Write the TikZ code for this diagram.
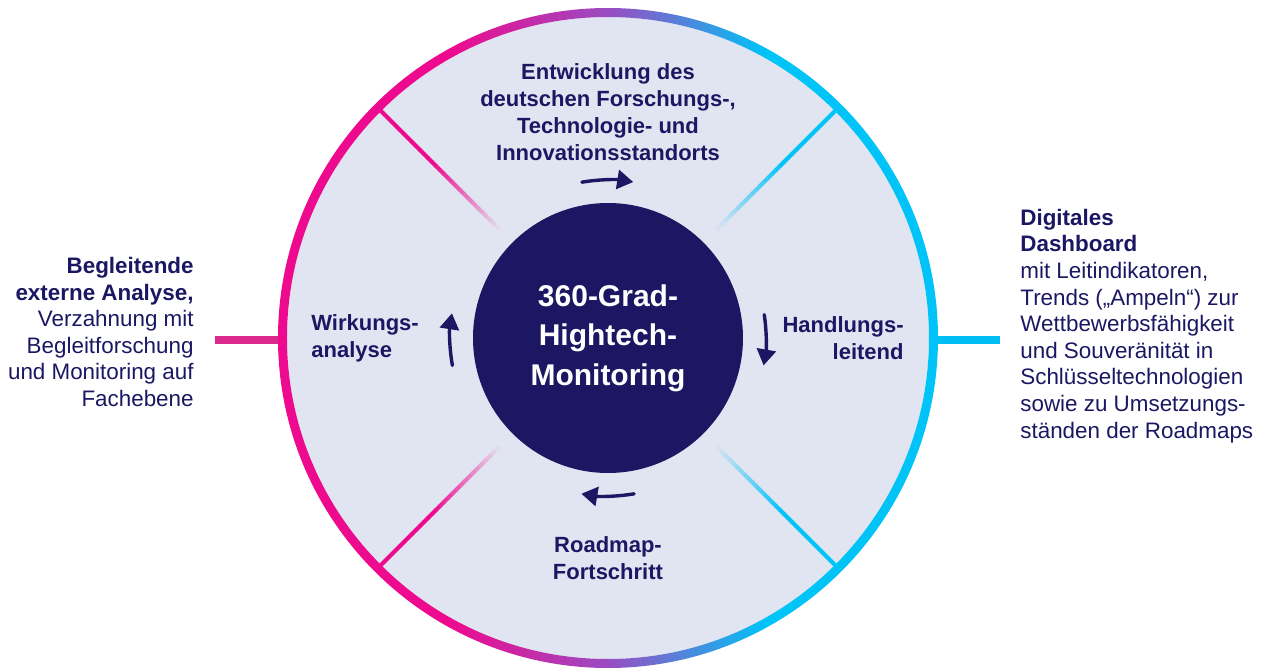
\documentclass[tikz,border=0pt]{standalone}
\usepackage{fontspec}
\setmainfont{Liberation Sans}
\usetikzlibrary{arrows.meta}
\definecolor{navy}{HTML}{1B1762}
\definecolor{diskfill}{HTML}{E1E4F1}
\definecolor{ringpink}{HTML}{EE0A8E}
\definecolor{ringpurple}{HTML}{9A4CC2}
\definecolor{ringcyan}{HTML}{00C3F7}
\definecolor{linkpink}{HTML}{DC2A8C}
\definecolor{linkcyan}{HTML}{00BEF3}
\pgfdeclarehorizontalshading{ringshade}{100bp}{color(0bp)=(ringpink); color(38bp)=(ringpink); color(50bp)=(ringpurple); color(62bp)=(ringcyan); color(100bp)=(ringcyan)}
\begin{document}
\begin{tikzpicture}[x=0.5pt, y=0.5pt, line cap=round, >={Triangle[length=8pt,width=9.5pt]},
	lbl/.style={text=navy, inner sep=0pt, align=center, font=\bfseries\fontsize{11pt}{13.5pt}\selectfont},
	side/.style={text=navy, inner sep=0pt, font=\fontsize{11.2pt}{13.3pt}\selectfont},
	hub/.style={circle, fill=navy, text=white, minimum size=135pt, inner sep=0pt, align=center, font=\bfseries\fontsize{15pt}{19.8pt}\selectfont},
	flow/.style={draw=navy, line width=1.7pt, ->},
	divider/.style={line width=2pt, line cap=butt},
	link/.style={line width=4pt, line cap=butt}]
		\useasboundingbox (-608,-333) rectangle (658,338);
		\fill[diskfill] (0,0) circle (321);
		% fading dividers
		\foreach \ang/\col in {135/ringpink, 225/ringpink, 45/ringcyan, -45/ringcyan}{
			\foreach \k in {0,...,29}{
				\pgfmathsetmacro{\ra}{322-\k*5.6}
				\pgfmathsetmacro{\rb}{322-(\k+1)*5.6-0.6}
				\pgfmathtruncatemacro{\mix}{min(100,100*(30-\k)/17)}
				\draw[divider, \col!\mix!diskfill] (\ang:\ra) -- (\ang:\rb);
			}
		}
		\coordinate (ringW) at (-326,-2);
		\coordinate (linkW) at (-393,-2);
		\coordinate (ringE) at (326,-2);
		\coordinate (linkE) at (392,-2);
		\draw[link, linkpink] (linkW) -- (ringW);
		\draw[link, linkcyan] (ringE) -- (linkE);
		\shade[shading=ringshade, even odd rule] (0,0) circle (330) circle (321);
		\node[hub] (hub) at (0,0) {360-Grad-\\Hightech-\\Monitoring};
		\node[lbl] (standort) at (0,226) {Entwicklung des\\deutschen Forschungs-,\\Technologie- und\\Innovationsstandorts};
		\node[lbl, anchor=east, align=right] (handeln) at (296,0) {Handlungs-\\leitend};
		\node[lbl] (roadmap) at (0,-220) {Roadmap-\\Fortschritt};
		\node[lbl, anchor=west, align=left] (wirkung) at (-297,0) {Wirkungs-\\analyse};
		\draw[flow] (99.5:158) arc[start angle=99.5, end angle=80.8, radius=158];
		\draw[flow] (8.5:158) arc[start angle=8.5, end angle=-10, radius=158];
		\draw[flow] (-80.5:158) arc[start angle=-80.5, end angle=-99.7, radius=158];
		\draw[flow] (190:158) arc[start angle=190, end angle=171, radius=158];
		\node[side, anchor=east, align=right] (extern) at (-414,6) {\textbf{Begleitende}\\\textbf{externe Analyse,}\\Verzahnung mit\\Begleitforschung\\und Monitoring auf\\Fachebene};
		\node[side, anchor=west, align=left] (dash) at (412,12) {\textbf{Digitales}\\\textbf{Dashboard}\\mit Leitindikatoren,\\Trends („Ampeln“) zur\\Wettbewerbsfähigkeit\\und Souveränität in\\Schlüsseltechnologien\\sowie zu Umsetzungs-\\ständen der Roadmaps};
\end{tikzpicture}
\end{document}
